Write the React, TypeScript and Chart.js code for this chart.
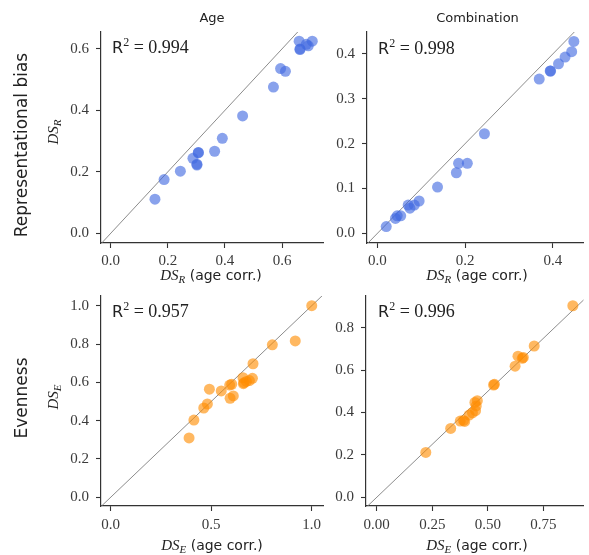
import React, { useEffect, useRef } from 'react';
import { Chart, registerables } from 'chart.js';

Chart.register(...registerables);

const W = 589;
const H = 555;

// ---- Data ----
const ageRepX = [0.155, 0.187, 0.244, 0.288, 0.307, 0.302, 0.302, 0.307, 0.364, 0.391, 0.462, 0.570, 0.595, 0.612, 0.660, 0.663, 0.663, 0.692, 0.706, 0.685];
const ageRepY = [0.111, 0.175, 0.202, 0.244, 0.263, 0.222, 0.225, 0.262, 0.267, 0.309, 0.382, 0.476, 0.536, 0.527, 0.625, 0.598, 0.600, 0.610, 0.625, 0.615];

const combRepX = [0.020, 0.041, 0.045, 0.053, 0.070, 0.074, 0.084, 0.095, 0.137, 0.180, 0.185, 0.205, 0.244, 0.369, 0.394, 0.395, 0.413, 0.428, 0.443, 0.448];
const combRepY = [0.015, 0.033, 0.039, 0.039, 0.063, 0.056, 0.063, 0.072, 0.103, 0.135, 0.156, 0.156, 0.222, 0.344, 0.362, 0.362, 0.378, 0.393, 0.405, 0.428];

const ageEvenX = [0.390, 0.414, 0.463, 0.481, 0.491, 0.550, 0.592, 0.602, 0.594, 0.610, 0.658, 0.663, 0.660, 0.690, 0.705, 0.708, 0.804, 0.918, 1.000, 0.675];
const ageEvenY = [0.310, 0.403, 0.466, 0.487, 0.564, 0.555, 0.586, 0.590, 0.517, 0.529, 0.624, 0.598, 0.593, 0.609, 0.621, 0.697, 0.796, 0.816, 1.000, 0.605];

const combEvenX = [0.221, 0.333, 0.376, 0.391, 0.396, 0.416, 0.431, 0.445, 0.448, 0.442, 0.453, 0.526, 0.530, 0.623, 0.636, 0.655, 0.660, 0.709, 0.883];
const combEvenY = [0.212, 0.325, 0.360, 0.363, 0.358, 0.388, 0.399, 0.409, 0.431, 0.448, 0.456, 0.530, 0.533, 0.619, 0.666, 0.656, 0.660, 0.714, 0.904];

const ticksRepAge = [0, 0.2, 0.4, 0.6];
const ticksRepCombX = [0, 0.2, 0.4];
const ticksRepCombY = [0, 0.1, 0.2, 0.3, 0.4];
const ticksEvenAgeX = [0, 0.5, 1.0];
const ticksEvenY = [0, 0.2, 0.4, 0.6, 0.8, 1.0];
const ticksEvenCombX = [0, 0.25, 0.5, 0.75];
const ticksEvenCombY = [0, 0.2, 0.4, 0.6, 0.8];

const r2Values = ['0.994', '0.998', '0.957', '0.996'];
const colTitles = ['Age', 'Combination'];
const rowTitles = ['Representational bias', 'Evenness'];

const BLUE = 'rgba(65,105,225,0.62)';
const ORANGE = 'rgba(255,140,0,0.62)';

const YW = 40;
const XH = 30;

type PanelCfg = {
  xs: number[];
  ys: number[];
  color: string;
  area: { l: number; r: number; t: number; b: number };
  xRange: [number, number];
  yRange: [number, number];
  xTicks: number[];
  yTicks: number[];
  xDec: number;
  yDec: number;
  xPad: number;
};

const panels: PanelCfg[] = [
  {
    xs: ageRepX, ys: ageRepY, color: BLUE,
    area: { l: 101, r: 323, t: 32, b: 243 },
    xRange: [-0.034, 0.7436], yRange: [-0.0315, 0.655],
    xTicks: ticksRepAge, yTicks: ticksRepAge, xDec: 1, yDec: 1, xPad: 4,
  },
  {
    xs: combRepX, ys: combRepY, color: BLUE,
    area: { l: 367, r: 588, t: 32, b: 243 },
    xRange: [-0.0239, 0.470], yRange: [-0.0217, 0.449],
    xTicks: ticksRepCombX, yTicks: ticksRepCombY, xDec: 1, yDec: 1, xPad: 4,
  },
  {
    xs: ageEvenX, ys: ageEvenY, color: ORANGE,
    area: { l: 101, r: 323, t: 296, b: 506 },
    xRange: [-0.048, 1.056], yRange: [-0.0454, 1.0506],
    xTicks: ticksEvenAgeX, yTicks: ticksEvenY, xDec: 1, yDec: 1, xPad: 5,
  },
  {
    xs: combEvenX, ys: combEvenY, color: ORANGE,
    area: { l: 366, r: 589, t: 296, b: 506 },
    xRange: [-0.0483, 0.931], yRange: [-0.041, 0.950],
    xTicks: ticksEvenCombX, yTicks: ticksEvenCombY, xDec: 2, yDec: 1, xPad: 5,
  },
];

const tickFont = { family: '"Liberation Serif", serif', size: 15 };
const AXIS = '#333333';
const TICKTXT = '#3a3a3a';

function Panel({ cfg }: { cfg: PanelCfg }) {
  const ref = useRef<HTMLCanvasElement>(null);
  useEffect(() => {
    const { area } = cfg;
    const chart = new Chart(ref.current!, {
      type: 'scatter',
      data: {
        datasets: [
          {
            data: cfg.xs.map((x, i) => ({ x, y: cfg.ys[i] })),
            backgroundColor: cfg.color,
            borderWidth: 0,
            pointRadius: 5.5,
            pointHoverRadius: 5.5,
            clip: false,
            order: 1,
          } as any,
          {
            data: [{ x: -1, y: -1 }, { x: 2, y: 2 }],
            showLine: true,
            borderColor: '#7f7f7f',
            borderWidth: 0.9,
            pointRadius: 0,
            order: 2,
          } as any,
        ],
      },
      options: {
        responsive: false,
        animation: false,
        events: [],
        plugins: { legend: { display: false }, tooltip: { enabled: false } },
        layout: {
          padding: {
            left: area.l - YW,
            top: area.t,
            right: W - area.r,
            bottom: H - area.b - XH,
          },
        },
        scales: {
          x: {
            type: 'linear',
            min: cfg.xRange[0],
            max: cfg.xRange[1],
            afterBuildTicks: (s: any) => {
              s.ticks = cfg.xTicks.map((v) => ({ value: v }));
            },
            afterFit: (s: any) => {
              s.height = XH;
              s.paddingLeft = 0;
              s.paddingRight = 0;
            },
            ticks: {
              autoSkip: false,
              maxRotation: 0,
              font: tickFont,
              color: TICKTXT,
              padding: cfg.xPad,
              callback: (v: any) => Number(v).toFixed(cfg.xDec),
            },
            grid: { drawOnChartArea: false, tickLength: 5, tickWidth: 1.1, tickColor: AXIS },
            border: { color: AXIS, width: 1.2 },
          },
          y: {
            type: 'linear',
            min: cfg.yRange[0],
            max: cfg.yRange[1],
            afterBuildTicks: (s: any) => {
              s.ticks = cfg.yTicks.map((v) => ({ value: v }));
            },
            afterFit: (s: any) => {
              s.width = YW;
              s.paddingTop = 0;
              s.paddingBottom = 0;
            },
            ticks: {
              autoSkip: false,
              font: tickFont,
              color: TICKTXT,
              padding: 7,
              callback: (v: any) => Number(v).toFixed(cfg.yDec),
            },
            grid: { drawOnChartArea: false, tickLength: 5, tickWidth: 1.1, tickColor: AXIS },
            border: { color: AXIS, width: 1.2 },
          },
        },
      },
    });
    return () => chart.destroy();
  }, [cfg]);
  return (
    <canvas
      ref={ref}
      width={W}
      height={H}
      style={{ position: 'absolute', left: 0, top: 0, width: W, height: H }}
    />
  );
}

const SANS = '"DejaVu Sans", sans-serif';
const SERIF = '"Liberation Serif", serif';

function Centered({ x, y, rotate, children, style }: any) {
  return (
    <div
      style={{
        position: 'absolute',
        left: x,
        top: y,
        transform: `translate(-50%, -50%)${rotate ? ' rotate(-90deg)' : ''}`,
        whiteSpace: 'nowrap',
        lineHeight: 1,
        color: '#222',
        ...style,
      }}
    >
      {children}
    </div>
  );
}

function DSLabel({ sub }: { sub: string }) {
  return (
    <span style={{ fontFamily: SERIF, fontStyle: 'italic', fontSize: 15 }}>
      DS
      <span style={{ fontSize: 11, position: 'relative', top: 3 }}>{sub}</span>
    </span>
  );
}

function XLabel({ x, y, sub }: { x: number; y: number; sub: string }) {
  return (
    <Centered x={x} y={y}>
      <DSLabel sub={sub} />
      <span style={{ fontFamily: SANS, fontSize: 14 }}> (age corr.)</span>
    </Centered>
  );
}

function R2({ x, y, val }: { x: number; y: number; val: string }) {
  return (
    <div
      style={{
        position: 'absolute',
        left: x,
        top: y,
        transform: 'translateY(-50%)',
        whiteSpace: 'nowrap',
        lineHeight: 1,
        color: '#222',
      }}
    >
      <span style={{ fontFamily: SANS, fontSize: 16 }}>R</span>
      <span style={{ fontFamily: SERIF, fontSize: 12, position: 'relative', top: -7 }}>2</span>
      <span style={{ fontFamily: SERIF, fontSize: 18 }}> = {val}</span>
    </div>
  );
}

export default function App() {
  return (
    <div
      style={{
        position: 'absolute',
        left: 0,
        top: 0,
        width: W,
        height: H,
        background: '#fff',
        overflow: 'hidden',
      }}
    >
      {panels.map((p, i) => (
        <Panel key={i} cfg={p} />
      ))}
      <Centered x={212} y={17} style={{ fontFamily: SANS, fontSize: 13 }}>{colTitles[0]}</Centered>
      <Centered x={477.5} y={17} style={{ fontFamily: SANS, fontSize: 13 }}>{colTitles[1]}</Centered>
      <Centered x={21} y={145} rotate style={{ fontFamily: SANS, fontSize: 17 }}>{rowTitles[0]}</Centered>
      <Centered x={21} y={398} rotate style={{ fontFamily: SANS, fontSize: 17 }}>{rowTitles[1]}</Centered>
      <Centered x={53} y={132} rotate><DSLabel sub="R" /></Centered>
      <Centered x={53} y={397} rotate><DSLabel sub="E" /></Centered>
      <XLabel x={211} y={275} sub="R" />
      <XLabel x={477} y={275} sub="R" />
      <XLabel x={212} y={545} sub="E" />
      <XLabel x={477} y={545} sub="E" />
      <R2 x={112} y={47} val={r2Values[0]} />
      <R2 x={378} y={48} val={r2Values[1]} />
      <R2 x={112} y={311} val={r2Values[2]} />
      <R2 x={378} y={311} val={r2Values[3]} />
    </div>
  );
}
